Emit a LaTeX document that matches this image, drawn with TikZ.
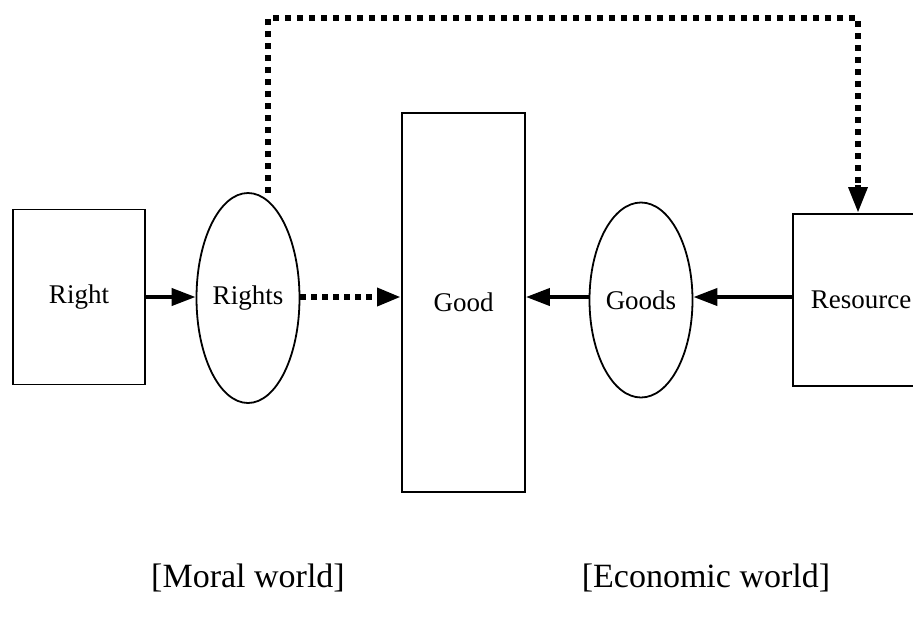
\documentclass[tikz,border=0pt]{standalone}
\usepackage{fontspec}
\setmainfont{Liberation Serif}
\usetikzlibrary{arrows.meta,shapes.geometric}
\begin{document}
\begin{tikzpicture}[x=1pt,y=-1pt,
  box/.style={draw,line width=1.8pt,inner sep=0pt,font=\fontsize{27}{30}\selectfont},
  oval/.style={draw,ellipse,line width=1.8pt,inner sep=0pt,font=\fontsize{27}{30}\selectfont},
  arr/.style={line width=4pt,-{Triangle[length=24pt,width=17pt]}},
  lbl/.style={font=\fontsize{34}{38}\selectfont}]
\useasboundingbox (0,0) rectangle (913,622);
\clip (0,0) rectangle (913,622);
\node[box,minimum width=132pt,minimum height=175pt] (right) at (79,297) {Right};
\node[oval,minimum width=103pt,minimum height=210pt] (rights) at (248,298) {Rights};
\node[box,minimum width=123pt,minimum height=379pt] (good) at (463.5,302.5) {Good};
\node[oval,minimum width=103pt,minimum height=195pt] (goods) at (641,300) {Goods};
\node[box,minimum width=136pt,minimum height=172pt] (res) at (861,300) {Resource};
\draw[arr] (right.east |- 0,297) -- (rights.west |- 0,297);
\draw[line width=6pt,dash pattern=on 6pt off 5pt,-{Triangle[length=24pt,width=17pt]}] (rights.east |- 0,297) -- (good.west |- 0,297);
\draw[arr] (goods.west |- 0,297) -- (good.east |- 0,297);
\draw[arr] (res.west |- 0,297) -- (goods.east |- 0,297);
\coordinate (c1) at (268,18);
\coordinate (c2) at (858,18);
\draw[line width=6pt,dash pattern=on 6pt off 6pt] (268,193) -- (c1) -- (c2) -- (858,186);
\draw[line width=6pt,-{Triangle[length=26pt,width=18pt]}] (858,185) -- (res.north -| 858,0);
\node[lbl] (moral) at (248,578) {[Moral world]};
\node[lbl] (econ) at (706,578) {[Economic world]};
\end{tikzpicture}
\end{document}
